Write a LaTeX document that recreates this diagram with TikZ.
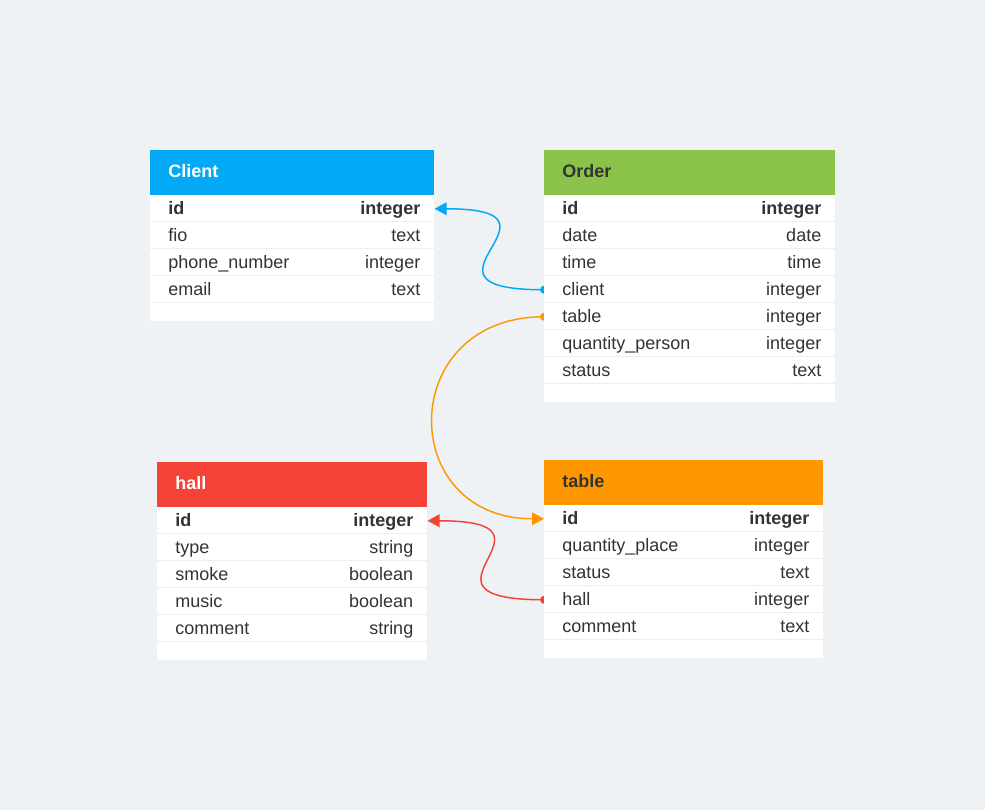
\documentclass[tikz,border=0pt]{standalone}
\usepackage{fontspec}
\setmainfont{Liberation Sans}
\usetikzlibrary{arrows.meta}

\definecolor{bgcol}{RGB}{238,242,245}
\definecolor{clientcol}{RGB}{3,169,244}
\definecolor{ordercol}{RGB}{139,195,74}
\definecolor{hallcol}{RGB}{244,67,54}
\definecolor{tabcol}{RGB}{255,152,0}
\definecolor{txtcol}{RGB}{51,51,51}
\definecolor{sepcol}{RGB}{236,238,240}

\pgfdeclarelayer{back}\pgfsetlayers{back,main}

\tikzset{
  hdbox/.style={rectangle, inner sep=0pt, minimum height=45*0.75pt, anchor=north west},
  rowbox/.style={rectangle, fill=white, inner sep=0pt, minimum height=27*0.75pt, anchor=north west},
  fld/.style={inner sep=0pt, text=txtcol, font=\fontsize{13.5}{16}\selectfont},
  hdtxt/.style={inner sep=0pt, anchor=base west, font=\fontsize{13.5}{16}\selectfont\bfseries},
  sepline/.style={draw=sepcol, line width=1.5pt},
  rel/.style={line width=1.1pt, -{Triangle[length=9pt,width=9.5pt]}}
}

% header: name, x, y, width, fill, text colour, title
\newcommand{\dbhead}[7]{%
  \node[hdbox, fill=#5, minimum width=#4*0.75pt] (#1) at (#2,#3) {};
  \node[hdtxt, text=#6] (#1-t) at ([xshift=13.5pt, yshift=-3.4pt]#1.west) {#7};}
% row: name, x, y, width, field, type
\newcommand{\dbrow}[6]{%
  \node[rowbox, minimum width=#4*0.75pt] (#1) at (#2,#3) {};
  \draw[sepline] ([yshift=0.75pt]#1.south west) -- ([yshift=0.75pt]#1.south east);
  \node[fld, anchor=base west] (#1-l) at ([xshift=13.5pt, yshift=-4pt]#1.west) {#5};
  \node[fld, anchor=base east] (#1-r) at ([xshift=-10.5pt, yshift=-4pt]#1.east) {#6};}

\begin{document}
\begin{tikzpicture}[x=0.75pt, y=-0.75pt]

\begin{pgfonlayer}{back}
  \fill[bgcol] (0,0) rectangle (985,810);
\end{pgfonlayer}
\useasboundingbox (0,0) rectangle (985,810);

% Client
\dbhead{client}{150}{150}{284}{clientcol}{white}{Client}
\dbrow{client-id}{150}{195}{284}{\textbf{id}}{\textbf{integer}}
\dbrow{client-fio}{150}{222}{284}{fio}{text}
\dbrow{client-phone}{150}{249}{284}{phone\_number}{integer}
\dbrow{client-email}{150}{276}{284}{email}{text}
\fill[white] (150,303) rectangle +(284,18);

% Order
\dbhead{order}{544}{150}{291}{ordercol}{txtcol}{Order}
\dbrow{order-id}{544}{195}{291}{\textbf{id}}{\textbf{integer}}
\dbrow{order-date}{544}{222}{291}{date}{date}
\dbrow{order-time}{544}{249}{291}{time}{time}
\dbrow{order-client}{544}{276}{291}{client}{integer}
\dbrow{order-table}{544}{303}{291}{table}{integer}
\dbrow{order-qty}{544}{330}{291}{quantity\_person}{integer}
\dbrow{order-status}{544}{357}{291}{status}{text}
\fill[white] (544,384) rectangle +(291,18);

% hall
\dbhead{hall}{157}{462}{270}{hallcol}{white}{hall}
\dbrow{hall-id}{157}{507}{270}{\textbf{id}}{\textbf{integer}}
\dbrow{hall-type}{157}{534}{270}{type}{string}
\dbrow{hall-smoke}{157}{561}{270}{smoke}{boolean}
\dbrow{hall-music}{157}{588}{270}{music}{boolean}
\dbrow{hall-comment}{157}{615}{270}{comment}{string}
\fill[white] (157,642) rectangle +(270,18);

% table
\dbhead{tab}{544}{460}{279}{tabcol}{txtcol}{table}
\dbrow{tab-id}{544}{505}{279}{\textbf{id}}{\textbf{integer}}
\dbrow{tab-qty}{544}{532}{279}{quantity\_place}{integer}
\dbrow{tab-status}{544}{559}{279}{status}{text}
\dbrow{tab-hall}{544}{586}{279}{hall}{integer}
\dbrow{tab-comment}{544}{613}{279}{comment}{text}
\fill[white] (544,640) rectangle +(279,18);

% relations
\begin{pgfonlayer}{back}
  \draw[rel, clientcol] (order-client.west) .. controls +(-150,0) and +(150,0) .. (client-id.east);
  \fill[clientcol] (order-client.west) circle[radius=3pt];
  \draw[rel, tabcol] (order-table.west) .. controls +(-148,0) and +(-148,0) .. (tab-id.west);
  \fill[tabcol] (order-table.west) circle[radius=3pt];
  \draw[rel, hallcol] (tab-hall.west) .. controls +(-150,0) and +(150,0) .. (hall-id.east);
  \fill[hallcol] (tab-hall.west) circle[radius=3pt];
\end{pgfonlayer}

\end{tikzpicture}
\end{document}
